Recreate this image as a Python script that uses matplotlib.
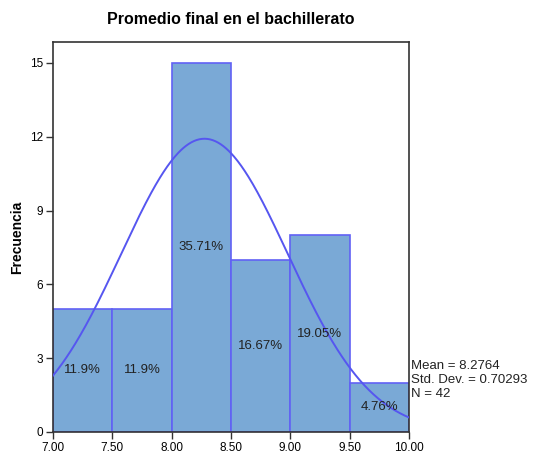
import numpy as np
import matplotlib
matplotlib.use("Agg")
import matplotlib.pyplot as plt

bin_edges = [7.0, 7.5, 8.0, 8.5, 9.0, 9.5, 10.0]
counts = [5, 5, 15, 7, 8, 2]
pct_labels = ["11.9%", "11.9%", "35.71%", "16.67%", "19.05%", "4.76%"]
mean = 8.2764
sd = 0.70293
n = 42
xticks = [7.0, 7.5, 8.0, 8.5, 9.0, 9.5, 10.0]
xticklabels = ["7.00", "7.50", "8.00", "8.50", "9.00", "9.50", "10.00"]
yticks = [0, 3, 6, 9, 12, 15]

plt.rcParams['font.family'] = ['Liberation Sans', 'DejaVu Sans']

fig = plt.figure(figsize=(5.38, 4.53), dpi=100)
ax = fig.add_axes([53/538, 21/453, (409-53)/538, (432-42)/453])

widths = np.diff(bin_edges)
ax.bar(bin_edges[:-1], counts, width=widths, align='edge',
       color='#7aa9d6', edgecolor='#6161f5', linewidth=1.2, zorder=2)

xs = np.linspace(7.0, 10.0, 400)
binw = bin_edges[1] - bin_edges[0]
ys = n * binw / (sd * np.sqrt(2 * np.pi)) * np.exp(-0.5 * ((xs - mean) / sd) ** 2)
ax.plot(xs, ys, color='#5656f0', linewidth=1.4, zorder=3)

for left, w, c, lab in zip(bin_edges[:-1], widths, counts, pct_labels):
    ax.text(left + w / 2, c / 2, lab, ha='center', va='center', fontsize=9.5,
            color='#222222', zorder=4)

ax.set_xlim(7.0, 10.0)
ax.set_ylim(0, 15.85)
ax.set_xticks(xticks)
ax.set_xticklabels(xticklabels, fontsize=8.5)
ax.set_yticks(yticks)
ax.set_yticklabels([str(v) for v in yticks], fontsize=8.5)
ax.tick_params(direction='out', length=5, width=1, color='#333333', pad=2)
for s in ax.spines.values():
    s.set_color('#333333')
    s.set_linewidth(1.2)

ax.set_ylabel('Frecuencia', fontsize=10, fontweight='bold', labelpad=4)
fig.text((53 + 409) / 2 / 538, 1 - 19 / 453, 'Promedio final en el bachillerato',
         ha='center', va='center', fontsize=11.5, fontweight='bold')

fig.text(411 / 538, 1 - 360 / 453,
         "Mean = 8.2764\nStd. Dev. = 0.70293\nN = 42",
         ha='left', va='top', fontsize=9.5, linespacing=1.2, color='#222222')

fig.savefig('out.png', dpi=100)
